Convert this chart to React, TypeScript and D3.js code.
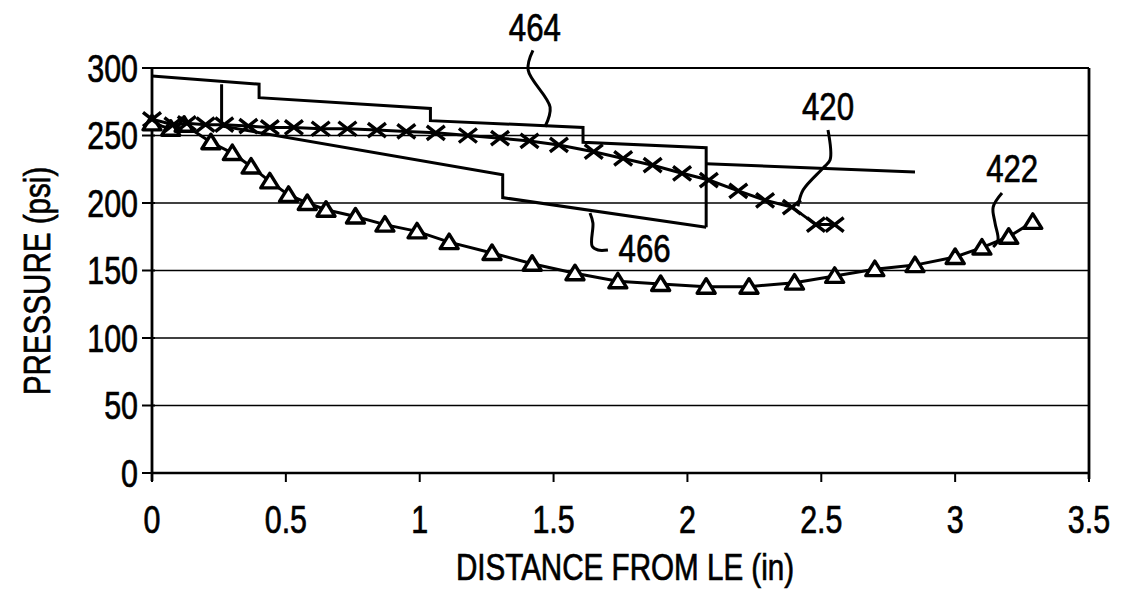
import * as React from 'react'
import * as d3 from 'd3'

const width = 1123
const height = 593
const font = "'Liberation Sans', Arial, sans-serif"
const squeeze = 0.8 // the reference uses a narrow face

// tick values
const xTicks = [0, 0.5, 1, 1.5, 2, 2.5, 3, 3.5]
const xTickLabels = ['0', '0.5', '1', '1.5', '2', '2.5', '3', '3.5']
const yTicks = [0, 50, 100, 150, 200, 250, 300]

// curve 420 (x markers)
const x420 = [0, 0.08, 0.13, 0.2, 0.27, 0.36, 0.44, 0.53, 0.63, 0.73, 0.84, 0.95, 1.06, 1.18, 1.3, 1.41, 1.52, 1.65, 1.76, 1.87, 1.98, 2.08, 2.19, 2.29, 2.39, 2.48, 2.55]
const p420 = [262, 258, 259, 258, 258, 257, 256, 256, 255, 255, 254, 253, 252, 250, 248, 246, 243, 238, 233, 228, 222, 217, 209, 202, 197, 184, 184]

// curve 422 (triangles)
const x422 = [0, 0.07, 0.12, 0.22, 0.3, 0.37, 0.44, 0.51, 0.58, 0.65, 0.76, 0.87, 0.99, 1.11, 1.27, 1.42, 1.58, 1.74, 1.9, 2.07, 2.23, 2.4, 2.55, 2.7, 2.85, 3.0, 3.1, 3.2, 3.29]
const p422 = [259, 255, 258, 245, 237, 227, 216, 206, 200, 195, 190, 184, 179, 171, 163, 155, 148, 142, 140, 138, 138, 141, 146, 151, 154, 160, 167, 175, 186]

// step line 464 (upper)
const x464 = [0, 0.4, 0.4, 1.04, 1.04, 1.61, 1.61, 2.07, 2.07]
const p464 = [294, 288, 278, 270, 261, 256, 245, 241, 182]

// step line 466 (lower)
const x466 = [0.26, 0.26, 1.31, 1.31, 2.07]
const p466 = [288, 257, 221, 204, 182]

// tail line after 2.07
const xTail = [2.07, 2.85]
const pTail = [229, 223]

// annotation labels and leader curves (data coords)
const labels = ['464', '420', '422', '466']
const labelX = [1.43, 2.525, 3.213, 1.84]
const labelP = [320, 261.5, 215.6, 156]
const leaderX = [
  [1.423, 1.405, 1.487, 1.468],
  [2.525, 2.533, 2.507, 2.432, 2.413],
  [3.175, 3.142, 3.149, 3.16, 3.142],
  [1.636, 1.647, 1.644, 1.666, 1.703],
]
const leaderP = [
  [313, 298.5, 271, 256.5],
  [254, 232, 226, 209.6, 197.5],
  [207.4, 197, 185.2, 172.6, 167.4],
  [192.6, 185.2, 168.1, 165.2, 165.2],
]

const xScale = d3.scaleLinear().domain([0, 3.5]).range([152, 1089])
const yScale = d3.scaleLinear().domain([0, 300]).range([473, 68])

const zip = (xs: number[], ys: number[]) => xs.map((x, i) => [x, ys[i]] as [number, number])

const line = d3
  .line<[number, number]>()
  .x(d => xScale(d[0]))
  .y(d => yScale(d[1]))

const leader = d3
  .line<[number, number]>()
  .x(d => xScale(d[0]))
  .y(d => yScale(d[1]))
  .curve(d3.curveCatmullRom)

const Label = ({ x, y, size, anchor = 'middle', rotate = 0, dy, children }: any) => (
  <text
    transform={`translate(${x},${y}) rotate(${rotate}) scale(${squeeze},1)`}
    textAnchor={anchor}
    fontSize={size}
    dy={dy}
    stroke="#000"
    strokeWidth={0.7}
  >
    {children}
  </text>
)

const App = () => {
  const pts420 = zip(x420, p420)
  const pts422 = zip(x422, p422)
  return (
    <svg
      width={width}
      height={height}
      style={{ position: 'absolute', left: 0, top: 0, background: '#fff' }}
      fontFamily={font}
    >
      {/* gridlines */}
      {yTicks.slice(1, -1).map(t => (
        <line key={t} x1={xScale(0)} x2={xScale(3.5)} y1={yScale(t)} y2={yScale(t)} stroke="#000" strokeWidth={1.6} />
      ))}
      {/* frame */}
      <line x1={xScale(0)} x2={xScale(3.5)} y1={yScale(300)} y2={yScale(300)} stroke="#000" strokeWidth={2.2} />
      <line x1={xScale(0)} x2={xScale(3.5)} y1={yScale(0)} y2={yScale(0)} stroke="#000" strokeWidth={2.6} />
      <line x1={xScale(0)} x2={xScale(0)} y1={yScale(300)} y2={yScale(0) + 8} stroke="#000" strokeWidth={2.8} />
      <line x1={xScale(3.5)} x2={xScale(3.5)} y1={yScale(300)} y2={yScale(0) + 6} stroke="#000" strokeWidth={2.8} />

      {/* y ticks */}
      {yTicks.map(t => (
        <g key={t}>
          <line x1={xScale(0) - 10} x2={xScale(0) + 3} y1={yScale(t)} y2={yScale(t)} stroke="#000" strokeWidth={2} />
          <Label x={xScale(0) - 14} y={yScale(t)} dy="0.36em" anchor="end" size={38}>
            {t}
          </Label>
        </g>
      ))}
      {/* x ticks */}
      {xTicks.map((t, i) => (
        <g key={t}>
          <line x1={xScale(t)} x2={xScale(t)} y1={yScale(0)} y2={yScale(0) + 9} stroke="#000" strokeWidth={2} />
          <Label x={xScale(t)} y={yScale(0) + 60} size={38}>
            {xTickLabels[i]}
          </Label>
        </g>
      ))}

      {/* axis titles */}
      <Label x={625} y={580} size={37}>
        DISTANCE FROM LE (in)
      </Label>
      <Label x={50} y={281} rotate={-90} size={37}>
        PRESSURE (psi)
      </Label>

      {/* step lines */}
      <path d={line(zip(x464, p464)) || ''} fill="none" stroke="#000" strokeWidth={3} />
      <path d={line(zip(x466, p466)) || ''} fill="none" stroke="#000" strokeWidth={3} />
      <path d={line(zip(xTail, pTail)) || ''} fill="none" stroke="#000" strokeWidth={3} />

      {/* curve 422 */}
      <path d={line(pts422) || ''} fill="none" stroke="#000" strokeWidth={3} />
      {pts422.map((d, i) => (
        <path
          key={i}
          transform={`translate(${xScale(d[0])},${yScale(d[1])})`}
          d="M0,-8L9,6.5L-9,6.5Z"
          fill="#fff"
          stroke="#000"
          strokeWidth={3.4}
          strokeLinejoin="round"
        />
      ))}

      {/* curve 420 */}
      <path d={line(pts420) || ''} fill="none" stroke="#000" strokeWidth={3} />
      {pts420.map((d, i) => (
        <path
          key={i}
          transform={`translate(${xScale(d[0])},${yScale(d[1])})`}
          d="M-9,-7L9,7M-9,7L9,-7"
          fill="none"
          stroke="#000"
          strokeWidth={3.4}
        />
      ))}

      {/* annotations */}
      {labels.map((l, i) => (
        <g key={l}>
          <path d={leader(zip(leaderX[i], leaderP[i])) || ''} fill="none" stroke="#000" strokeWidth={3} />
          <Label x={xScale(labelX[i])} y={yScale(labelP[i])} size={39}>
            {l}
          </Label>
        </g>
      ))}
    </svg>
  )
}

export default App
